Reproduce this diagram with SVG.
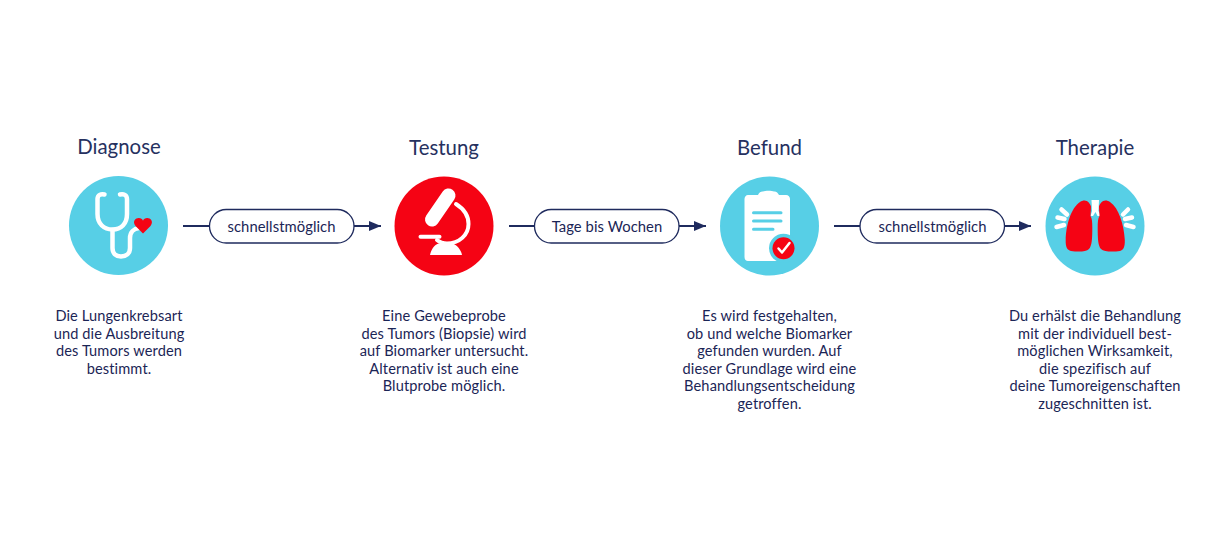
<svg xmlns="http://www.w3.org/2000/svg" width="1222" height="543" viewBox="0 0 1222 543">
<style>
text{font-family:"Lato","Noto Sans",sans-serif;fill:#1b2556;text-anchor:middle;font-variant-ligatures:none}
.h{font-size:20.4px;fill:#26315f}
.b{font-size:14.6px;letter-spacing:.12px}
.p{font-size:14.8px;letter-spacing:.06px}
.c{stroke:#1f2b5e;stroke-width:2;fill:none}
.pill{fill:#fff;stroke:#1f2b5e;stroke-width:1.3}
.w{fill:none;stroke:#fff;stroke-linecap:round;stroke-linejoin:round}
.blue{fill:#57cfe6}
.red{fill:#f50314}
</style>
<defs><marker id="a" markerUnits="userSpaceOnUse" markerWidth="12" markerHeight="10" refX="12" refY="5" orient="auto"><path d="M0 0L12 5L0 10Z" fill="#1f2b5e"/></marker></defs>
<rect width="1222" height="543" fill="#fff"/>
<g id="connectors">
<path class="c" d="M183 226H381" marker-end="url(#a)"/>
<path class="c" d="M509 226H706" marker-end="url(#a)"/>
<path class="c" d="M834 226H1031" marker-end="url(#a)"/>
</g>
<g id="label-1"><rect class="pill" x="209.500" y="209.500" width="144.500" height="33.500" rx="16.700"/><text class="p" x="281.500" y="232">schnellstmöglich</text></g>
<g id="label-2"><rect class="pill" x="534.500" y="209.500" width="144.500" height="33.500" rx="16.700"/><text class="p" x="607" y="232">Tage bis Wochen</text></g>
<g id="label-3"><rect class="pill" x="860" y="209.500" width="144.500" height="33.500" rx="16.700"/><text class="p" x="932.500" y="232">schnellstmöglich</text></g>
<g id="diagnose">
<text class="h" x="119" y="154">Diagnose</text>
<circle class="blue" cx="118.500" cy="225.500" r="49.500"/>
<path class="w" stroke-width="4.500" d="M104.500 194.500C101 193.500 97.500 195 97.500 199V214C97.500 224 104 229.500 112.500 229.500C121 229.500 127 224 127 214V199C127 195 123.500 193.500 120 194.500"/>
<path class="w" stroke-width="4.500" d="M112.500 230V248C112.500 253.500 116 256.500 121 256.500C126 256.500 130 253.500 130 248V238C130 232 134 228.500 139 228"/>
<path class="red" d="M143 233.500L135.500 226C132 221.500 135.500 218 138.800 218C140.800 218 142.400 219 143 220.800C143.600 219 145.200 218 147.200 218C150.500 218 154 221.500 150.500 226Z"/>
<text class="b"><tspan x="119" y="321">Die Lungenkrebsart</tspan><tspan x="119" y="338.500">und die Ausbreitung</tspan><tspan x="119" y="356">des Tumors werden</tspan><tspan x="119" y="373.500">bestimmt.</tspan></text>
</g>
<g id="testung">
<text class="h" x="444" y="155">Testung</text>
<circle class="red" cx="444" cy="226" r="49.500"/>
<path d="M448.500 195.500L432 219.500" stroke="#fff" stroke-width="14" stroke-linecap="round" fill="none"/>
<path class="w" stroke-width="4" d="M456 204C464 209 468.500 216 468.500 224C468.500 235 459 243.500 447 243.500C443 243.500 440 242.500 437 240"/>
<path class="w" stroke-width="4" d="M420.500 236.700H439.500"/>
<path d="M430 255C431 250 434 244.500 439 243.500H452C457 244.500 461 250 462 255Z" fill="#fff"/>
<text class="b"><tspan x="444" y="321">Eine Gewebeprobe</tspan><tspan x="444" y="338.500">des Tumors (Biopsie) wird</tspan><tspan x="444" y="356">auf Biomarker untersucht.</tspan><tspan x="444" y="373.500">Alternativ ist auch eine</tspan><tspan x="444" y="391">Blutprobe möglich.</tspan></text>
</g>
<g id="befund">
<text class="h" x="769.500" y="155">Befund</text>
<circle class="blue" cx="769.500" cy="226" r="49.500"/>
<path d="M748 195H758C759 192 762 191 763 191.500C765 190.500 772 190.500 774 191.500C776 191 778 193 779 195H786C788.500 195 790 197 790 199V257C790 259.500 788.500 261 786 261H748C746 261 744.500 259.500 744.500 257V199C744.500 197 746 195 748 195Z" fill="#fff"/>
<path d="M753.500 212.700H781M753.500 221H781M753.500 229.300H773" stroke="#57cfe6" stroke-width="3" stroke-linecap="round" fill="none"/>
<circle class="blue" cx="783.500" cy="248.300" r="14.500"/>
<circle class="red" cx="783.500" cy="248.300" r="11"/>
<path class="w" stroke-width="2.500" d="M778.500 248.500L782 252.500L789.500 243"/>
<text class="b"><tspan x="769.500" y="321">Es wird festgehalten,</tspan><tspan x="769.500" y="338.500">ob und welche Biomarker</tspan><tspan x="769.500" y="356">gefunden wurden. Auf</tspan><tspan x="769.500" y="373.500">dieser Grundlage wird eine</tspan><tspan x="769.500" y="391">Behandlungsentscheidung</tspan><tspan x="769.500" y="408.500">getroffen.</tspan></text>
</g>
<g id="therapie">
<text class="h" x="1095" y="155">Therapie</text>
<circle class="blue" cx="1095" cy="226" r="49.500"/>
<path d="M1091.500 200H1099L1098.500 211L1101 216H1097.500L1095.500 212L1093 216H1090.500L1092 211Z" fill="#fff"/>
<path class="red" d="M1084 200.500C1087 200 1090 203 1091 206.500C1091 211 1090.500 213 1090.500 216C1092 218 1092.300 222 1092.300 228C1092.300 238 1092 246 1089 249C1086 252 1078 252 1071 251C1067 250 1065.500 247 1065.700 240C1066 225 1071 208 1080 202C1081.500 201 1083 200.500 1084 200.500Z"/>
<path class="red" d="M1106 200.500C1103 200 1100 203 1099 206.500C1099 211 1099.500 213 1099.500 216C1098 218 1097.700 222 1097.700 228C1097.700 238 1098 246 1101 249C1104 252 1113 252 1120 251C1123.500 250 1125 247 1124.800 240C1124 225 1119 208 1110 202C1108.500 201 1107 200.500 1106 200.500Z"/>
<path class="w" stroke-width="4.500" d="M1061.500 209.500L1067 214.500M1057.500 217.500L1064.500 219M1056.500 227L1064 225M1128 209.500L1123 214.500M1132 217.500L1125 219M1133.500 227L1126 225"/>
<text class="b"><tspan x="1095" y="321">Du erhälst die Behandlung</tspan><tspan x="1095" y="338.500">mit der individuell best-</tspan><tspan x="1095" y="356">möglichen Wirksamkeit,</tspan><tspan x="1095" y="373.500">die spezifisch auf</tspan><tspan x="1095" y="391">deine Tumoreigenschaften</tspan><tspan x="1095" y="408.500">zugeschnitten ist.</tspan></text>
</g>
</svg>
